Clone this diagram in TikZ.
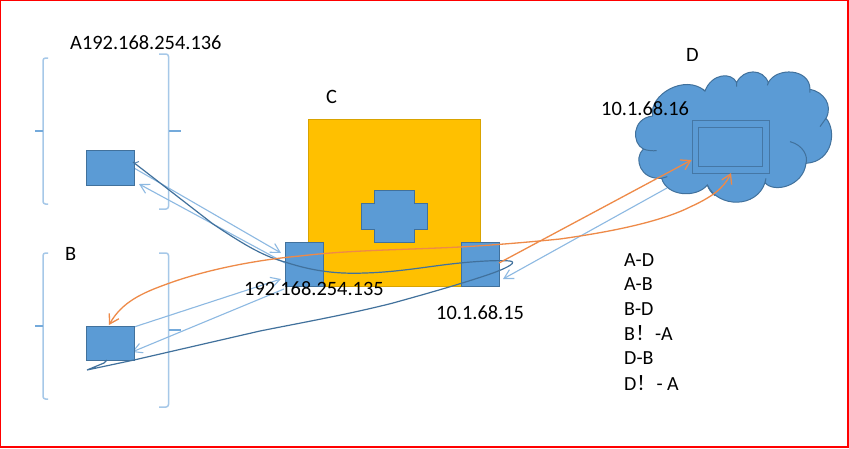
\documentclass[tikz,border=0pt]{standalone}
\usepackage{fontspec}
\setmainfont{Carlito}
\newfontfamily\cjkfont{Noto Sans CJK SC}
\usetikzlibrary{arrows.meta}
\definecolor{fillblue}{HTML}{5B9BD5}
\definecolor{edgeblue}{HTML}{41719C}
\definecolor{lineblue}{HTML}{8DB9E2}
\definecolor{brk}{HTML}{A6C8E8}
\definecolor{orangeline}{HTML}{EE8A48}
\definecolor{yellowbox}{HTML}{FFC000}
\tikzset{
  bluebox/.style={draw=edgeblue,fill=fillblue,line width=0.9pt,inner sep=0pt,outer sep=0pt},
  lightarrow/.style={draw=lineblue,line width=1.1pt,-{Straight Barb[length=9pt,width=10pt,line width=1.1pt]}},
  orangearrow/.style={draw=orangeline,line width=1.3pt,-{Straight Barb[length=9pt,width=11pt,line width=1.3pt]}},
  darkcurve/.style={draw=edgeblue,line width=1.2pt},
  bracket/.style={draw=brk,line width=1.5pt,rounded corners=2.5pt},
  brtick/.style={draw=fillblue!85,line width=1.2pt},
  label/.style={font=\fontsize{20.4}{20}\selectfont,inner sep=0pt,text=black},
  listlabel/.style={font=\fontsize{20}{20}\selectfont,inner sep=0pt,text=black}
}
\begin{document}
\begin{tikzpicture}[x=1pt,y=-1pt]
\useasboundingbox (0,0) rectangle (849,448);
\fill[white] (0,0) rectangle (849,448);
\draw[red,line width=1.6pt] (0.5,0.5) rectangle (848,447.2);

% brackets
\draw[bracket] (48,58) -- (43,58) -- (43,204) -- (48,204);
\draw[brtick] (35,131) -- (43,131);
\draw[bracket] (159,54) -- (168.5,54) -- (168.5,209) -- (159,209);
\draw[brtick] (169,131) -- (181,131);
\draw[bracket] (48,253) -- (43,253) -- (43,399) -- (48,399);
\draw[brtick] (35,326) -- (43,326);
\draw[bracket] (159,253) -- (168.5,253) -- (168.5,407) -- (159,407);
\draw[brtick] (169,330) -- (181,330);

% cloud
\begin{scope}[shift={(590,30)},x=0.3333pt,y=-0.3333pt]
\draw[fill=fillblue,draw=edgeblue,line width=1pt]
 (188,258) .. controls (175,195) and (285,130) .. (345,183)
 .. controls (365,130) and (425,125) .. (440,158)
 .. controls (460,115) and (520,115) .. (535,158)
 .. controls (560,110) and (660,115) .. (660,178)
 .. controls (700,185) and (730,225) .. (708,265)
 .. controls (740,300) and (730,395) .. (648,400)
 .. controls (640,470) and (550,490) .. (525,458)
 .. controls (500,535) and (385,535) .. (352,465)
 .. controls (320,505) and (230,500) .. (215,445)
 .. controls (150,450) and (130,385) .. (160,357)
 .. controls (125,340) and (125,265) .. (188,258) -- cycle;
\draw[draw=edgeblue,line width=1pt]
 (600,335) .. controls (640,345) and (655,380) .. (648,400)
 (352,465) .. controls (356,478) and (365,490) .. (375,497)
 (160,357) .. controls (172,362) and (188,363) .. (200,362)
 (215,445) -- (232,440)
 (708,265) -- (690,290)
 (660,178) -- (660,188)
 (525,458) -- (528,445)
 (535,158) -- (532,166)
 (440,158) -- (440,170)
 (345,183) -- (338,177);
\end{scope}
\node[draw=edgeblue!85!fillblue,line width=0.9pt,minimum width=77pt,minimum height=53pt,inner sep=0pt,outer sep=0pt] (monitor) at (730.5,146.5) {};
\node[draw=edgeblue!85!fillblue,line width=1pt,minimum width=64pt,minimum height=39pt,inner sep=0pt] (screen) at (730,146.5) {};

% router C
\node[draw=yellowbox!85!black,fill=yellowbox,line width=0.8pt,minimum width=172pt,minimum height=167pt,inner sep=0pt] (routerC) at (394,202.5) {};
\draw[bluebox] (374,190) -- (414,190) -- (414,203) -- (427,203) -- (427,229) -- (414,229) -- (414,242) -- (374,242) -- (374,229) -- (361,229) -- (361,203) -- (374,203) -- cycle;
\node[bluebox,minimum width=38pt,minimum height=44pt] (portL) at (304,264) {};
\node[bluebox,minimum width=38pt,minimum height=44pt] (portR) at (480,264) {};

% named connector ends
\coordinate (aOut) at (134,168);
\coordinate (aIn) at (139,184);
\coordinate (lIn) at (281,253);
\coordinate (lOut) at (285,263);
\coordinate (bOut) at (134,327);
\coordinate (bIn) at (132,352);
\coordinate (lIn2) at (281,279);
\coordinate (lOut2) at (284,289);
\coordinate (cloudOut) at (667,188);
\coordinate (rIn) at (503,279);
\coordinate (rOut) at (499,263);
\coordinate (monIn) at (691.5,160);
\coordinate (monIn2) at (731,173);
\coordinate (bTop) at (109,325);
\coordinate (aDark) at (133,162);
\coordinate (bDark) at (107,360);
\coordinate (bTip) at (87,370);

% light arrows
\draw[lightarrow] (aOut) -- (lIn);
\draw[lightarrow] (lOut) -- (aIn);
\draw[lightarrow] (bOut) -- (lIn2);
\draw[lightarrow] (lOut2) -- (bIn);
\draw[lightarrow] (cloudOut) -- (rIn);

% hosts
\node[bluebox,minimum width=48pt,minimum height=35pt] (hostA) at (110,167.5) {};
\node[bluebox,minimum width=48pt,minimum height=34pt] (hostB) at (110,343) {};

% dark curve
\draw[darkcurve] (aDark) -- (213,224)
 .. controls (240,242) and (262,256) .. (285,262)
 .. controls (315,272) and (340,274) .. (365,273)
 .. controls (400,272) and (430,266) .. (460,263)
 .. controls (480,261) and (500,260) .. (510,261)
 .. controls (516,262) and (512,266) .. (493,273)
 .. controls (470,281) and (440,290) .. (393,303)
 .. controls (350,314) and (300,323) .. (260,331)
 -- (134,360) -- (bTip) -- (104,363) -- (bDark);
\draw[edgeblue!70!lineblue,line width=1pt] (135,163) -- (139,161.5);

% orange
\draw[orangearrow] (rOut) -- (monIn);
\draw[orangeline,line width=1.3pt,{Straight Barb[length=9pt,width=11pt,line width=1.3pt]}-{Straight Barb[length=9pt,width=11pt,line width=1.3pt]}]
 (bTop) .. controls (122,302) and (142,293) .. (167,284)
 .. controls (205,270) and (255,260) .. (300,256)
 .. controls (350,250) and (400,250) .. (460,247)
 .. controls (495,245) and (530,242) .. (560,239)
 .. controls (610,232) and (660,222) .. (690,207)
 .. controls (712,197) and (724,188) .. (monIn2);

% labels
\node[label,anchor=west] (tA) at (70,43) {A192.168.254.136};
\node[label,anchor=west] (tB) at (65,254) {B};
\node[label,anchor=west] (tC) at (326,97) {C};
\node[label,anchor=west] (tD) at (686,55) {D};
\node[label,anchor=west] (tD2) at (601,109) {10.1.68.16};
\node[label,anchor=west] (tL) at (244,289) {192.168.254.135};
\node[label,anchor=west] (tR) at (436,313) {10.1.68.15};
\node[listlabel,anchor=west] (l1) at (624,260) {A-D};
\node[listlabel,anchor=west] (l2) at (624,284.5) {A-B};
\node[listlabel,anchor=west] (l3) at (624,309) {B-D};
\node[listlabel,anchor=west] (l4) at (624,333.5) {B{\cjkfont ！}-A};
\node[listlabel,anchor=west] (l5) at (624,358) {D-B};
\node[listlabel,anchor=west] (l6) at (624,383) {D{\cjkfont ！}- A};
\end{tikzpicture}
\end{document}
